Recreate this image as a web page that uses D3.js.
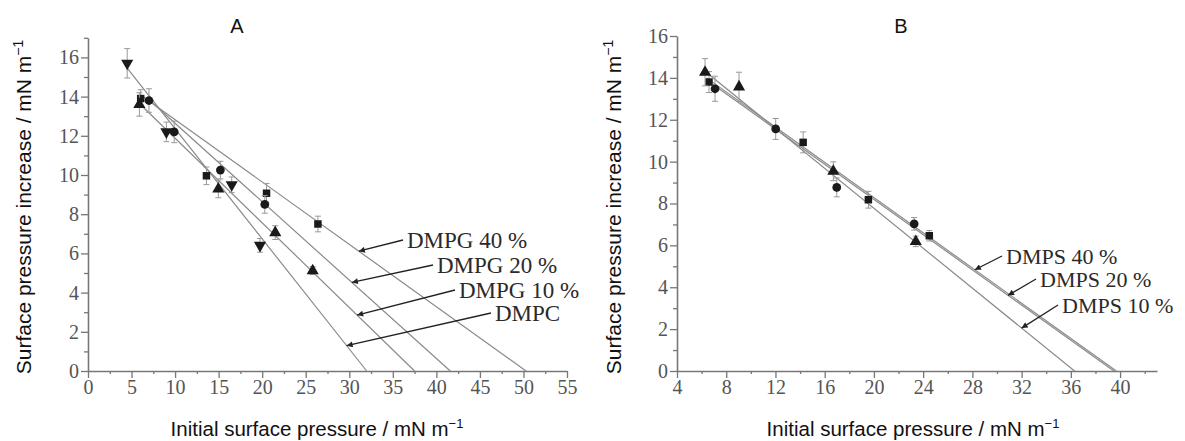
<!DOCTYPE html>
<html>
<head>
<meta charset="utf-8">
<script src="https://cdn.jsdelivr.net/npm/d3@7"></script>
<style>
  body { margin: 0; background: #fff; }
  text { font-family: "Liberation Serif", "DejaVu Serif", serif; }
  .lab { font-family: "Liberation Sans", Arial, sans-serif; fill: #111; }
</style>
</head>
<body>
<svg width="1185" height="441"></svg>
<script>
// ---- data ----
// panel A : [x, y, error]
const aDMPG40 = [[6.05, 13.9, 0.45], [13.6, 9.96, 0.45], [20.5, 9.07, 0.5], [26.4, 7.5, 0.4]];
const aDMPG20 = [[7.0, 13.8, 0.6], [9.9, 12.2, 0.55], [15.2, 10.25, 0.45], [20.3, 8.5, 0.45]];
const aDMPG10 = [[5.9, 13.6, 0.6], [14.96, 9.29, 0.45], [21.5, 7.06, 0.35], [25.8, 5.12, 0.2]];
const aDMPC   = [[4.5, 15.7, 0.75], [9.0, 12.2, 0.5], [16.5, 9.5, 0.4], [19.75, 6.41, 0.35]];
const aNames  = ["DMPG 40 %", "DMPG 20 %", "DMPG 10 %", "DMPC"];
// fitted lines: start point and x-intercept
const aLineX0 = [6.0, 7.0, 5.9, 4.5];
const aLineY0 = [14.1, 13.84, 13.65, 15.45];
const aLineX1 = [50.3, 41.6, 37.5, 32.0];
const aXTicks = [0, 5, 10, 15, 20, 25, 30, 35, 40, 45, 50, 55];
const aYTicks = [0, 2, 4, 6, 8, 10, 12, 14, 16];

// panel B
const bDMPS40 = [[6.6, 13.8, 0.5], [14.25, 10.92, 0.5], [19.55, 8.18, 0.4], [24.5, 6.46, 0.25]];
const bDMPS20 = [[7.09, 13.48, 0.6], [12.02, 11.56, 0.5], [16.98, 8.77, 0.45], [23.27, 7.03, 0.3]];
const bDMPS10 = [[6.28, 14.27, 0.65], [9.04, 13.57, 0.7], [16.7, 9.54, 0.45], [23.4, 6.19, 0.25]];
const bNames  = ["DMPS 40 %", "DMPS 20 %", "DMPS 10 %"];
const bLineX0 = [6.4, 6.9, 6.2];
const bLineY0 = [14.0, 13.7, 14.35];
const bLineX1 = [39.7, 39.5, 36.3];
const bXTicks = [4, 8, 12, 16, 20, 24, 28, 32, 36, 40];
const bYTicks = [0, 2, 4, 6, 8, 10, 12, 14, 16];

const svg = d3.select("svg");

svg.append("defs").append("marker")
  .attr("id", "arr").attr("viewBox", "0 0 10 10")
  .attr("refX", 10).attr("refY", 5)
  .attr("markerWidth", 8).attr("markerHeight", 6)
  .attr("markerUnits", "userSpaceOnUse")
  .attr("orient", "auto")
  .append("path").attr("d", "M0,0L10,5L0,10z").attr("fill", "#222");

const sym = {
  square: d3.symbol().type(d3.symbolSquare).size(56),
  circle: d3.symbol().type(d3.symbolCircle).size(60),
  up: d3.symbol().type(d3.symbolTriangle).size(64),
  down: d3.symbol().type(d3.symbolTriangle).size(64)
};

function panel(cfg) {
  let g = svg.append("g");
  let x = d3.scaleLinear().domain(cfg.xDom).range(cfg.xRange);
  let y = d3.scaleLinear().domain(cfg.yDom).range(cfg.yRange);

  // axes
  let xAxis = d3.axisBottom(x).tickValues(cfg.xTicks).tickSize(7).tickPadding(2).tickSizeOuter(0);
  g.append("g").attr("transform", `translate(0,${y(0)})`).call(xAxis);
  g.append("g").attr("transform", `translate(0,${y(0)})`)
    .call(d3.axisBottom(x).tickValues(cfg.xMinor).tickSize(3).tickFormat("").tickSizeOuter(0))
    .select(".domain").remove();
  let yAxis = d3.axisLeft(y).tickValues(cfg.yTicks).tickSize(7).tickPadding(2).tickSizeOuter(0);
  g.append("g").attr("transform", `translate(${x(cfg.xDom[0])},0)`).call(yAxis);
  g.append("g").attr("transform", `translate(${x(cfg.xDom[0])},0)`)
    .call(d3.axisLeft(y).tickValues(cfg.yMinor).tickSize(4).tickFormat("").tickSizeOuter(0))
    .select(".domain").remove();
  g.selectAll(".domain").attr("stroke", "#777").attr("stroke-width", 1.6);
  g.selectAll(".tick line").attr("stroke", "#777").attr("stroke-width", 1.3);
  g.selectAll(".tick text").attr("font-family", "Liberation Serif, serif")
    .attr("font-size", 20).attr("fill", "#555");

  // fitted lines
  cfg.lines.forEach(l => {
    g.append("line")
      .attr("x1", x(l.x0)).attr("y1", y(l.y0))
      .attr("x2", x(l.x1)).attr("y2", y(0))
      .attr("stroke", "#8a8a8a").attr("stroke-width", 1.2);
  });

  // error bars + markers
  cfg.series.forEach(s => {
    let sg = g.append("g");
    s.data.forEach(d => {
      sg.append("line").attr("x1", x(d[0])).attr("x2", x(d[0]))
        .attr("y1", y(d[1] - d[2])).attr("y2", y(d[1] + d[2]))
        .attr("stroke", "#999").attr("stroke-width", 1);
      [d[1] - d[2], d[1] + d[2]].forEach(v => {
        sg.append("line").attr("x1", x(d[0]) - 3).attr("x2", x(d[0]) + 3)
          .attr("y1", y(v)).attr("y2", y(v))
          .attr("stroke", "#999").attr("stroke-width", 1);
      });
    });
    sg.selectAll("path").data(s.data).join("path")
      .attr("d", sym[s.sym])
      .attr("transform", d => `translate(${x(d[0])},${y(d[1])})` + (s.sym === "down" ? " rotate(180)" : ""))
      .attr("fill", "#1a1a1a");
  });

  // labels with arrows
  cfg.lines.forEach(l => {
    let ty = y(l.y0 * (l.x1 - l.at) / (l.x1 - l.x0));
    g.append("line")
      .attr("x1", l.tx - 4).attr("y1", l.ty)
      .attr("x2", x(l.at)).attr("y2", ty)
      .attr("stroke", "#222").attr("stroke-width", 1.3)
      .attr("marker-end", "url(#arr)");
    g.append("text").attr("x", l.tx).attr("y", l.ty + 8)
      .attr("font-size", cfg.labSize).attr("fill", "#2a2a2a").text(l.name);
  });

  // titles
  g.append("text").attr("class", "lab").attr("x", cfg.title[1]).attr("y", 33)
    .attr("text-anchor", "middle").attr("font-size", 20).text(cfg.title[0]);
  let xl = g.append("text").attr("class", "lab")
    .attr("x", cfg.xLabX).attr("y", 436)
    .attr("text-anchor", "middle").attr("font-size", 20.5);
  xl.append("tspan").text("Initial surface pressure / mN m");
  xl.append("tspan").attr("font-size", 13).attr("dy", -8).text("−1");
  let yl = g.append("text").attr("class", "lab")
    .attr("transform", `translate(${cfg.yLabX},207) rotate(-90)`)
    .attr("text-anchor", "middle").attr("font-size", 21);
  yl.append("tspan").text("Surface pressure increase / mN m");
  yl.append("tspan").attr("font-size", 14).attr("dy", -8).text("−1");
}

panel({
  title: ["A", 237],
  xDom: [0, 55], xRange: [88, 567],
  yDom: [0, 17], yRange: [371, 371 - 17 * 19.6],
  xTicks: aXTicks, xMinor: aXTicks.slice(0, -1).map(v => v + 2.5),
  yTicks: aYTicks, yMinor: aYTicks.map(v => v + 1),
  yLabX: 31, xLabX: 317, labSize: 23,
  series: [
    { data: aDMPG40, sym: "square" },
    { data: aDMPG20, sym: "circle" },
    { data: aDMPG10, sym: "up" },
    { data: aDMPC, sym: "down" }
  ],
  lines: aNames.map((n, i) => ({
    name: n, x0: aLineX0[i], y0: aLineY0[i], x1: aLineX1[i],
    at: [31.1, 30.3, 30.9, 29.7][i],
    tx: [407, 437, 459, 495][i], ty: [240, 265, 290, 313][i]
  }))
});

panel({
  title: ["B", 901],
  xDom: [4, 43], xRange: [677, 1157],
  yDom: [0, 16], yRange: [371, 36],
  xTicks: bXTicks, xMinor: bXTicks.map(v => v + 2),
  yTicks: bYTicks, yMinor: bYTicks.slice(0, -1).map(v => v + 1),
  yLabX: 621, xLabX: 913, labSize: 22,
  series: [
    { data: bDMPS40, sym: "square" },
    { data: bDMPS20, sym: "circle" },
    { data: bDMPS10, sym: "up" }
  ],
  lines: bNames.map((n, i) => ({
    name: n, x0: bLineX0[i], y0: bLineY0[i], x1: bLineX1[i],
    at: [28.2, 30.9, 32.0][i],
    tx: [1006, 1040, 1062][i], ty: [256, 279, 305][i]
  }))
});
</script>
</body>
</html>
